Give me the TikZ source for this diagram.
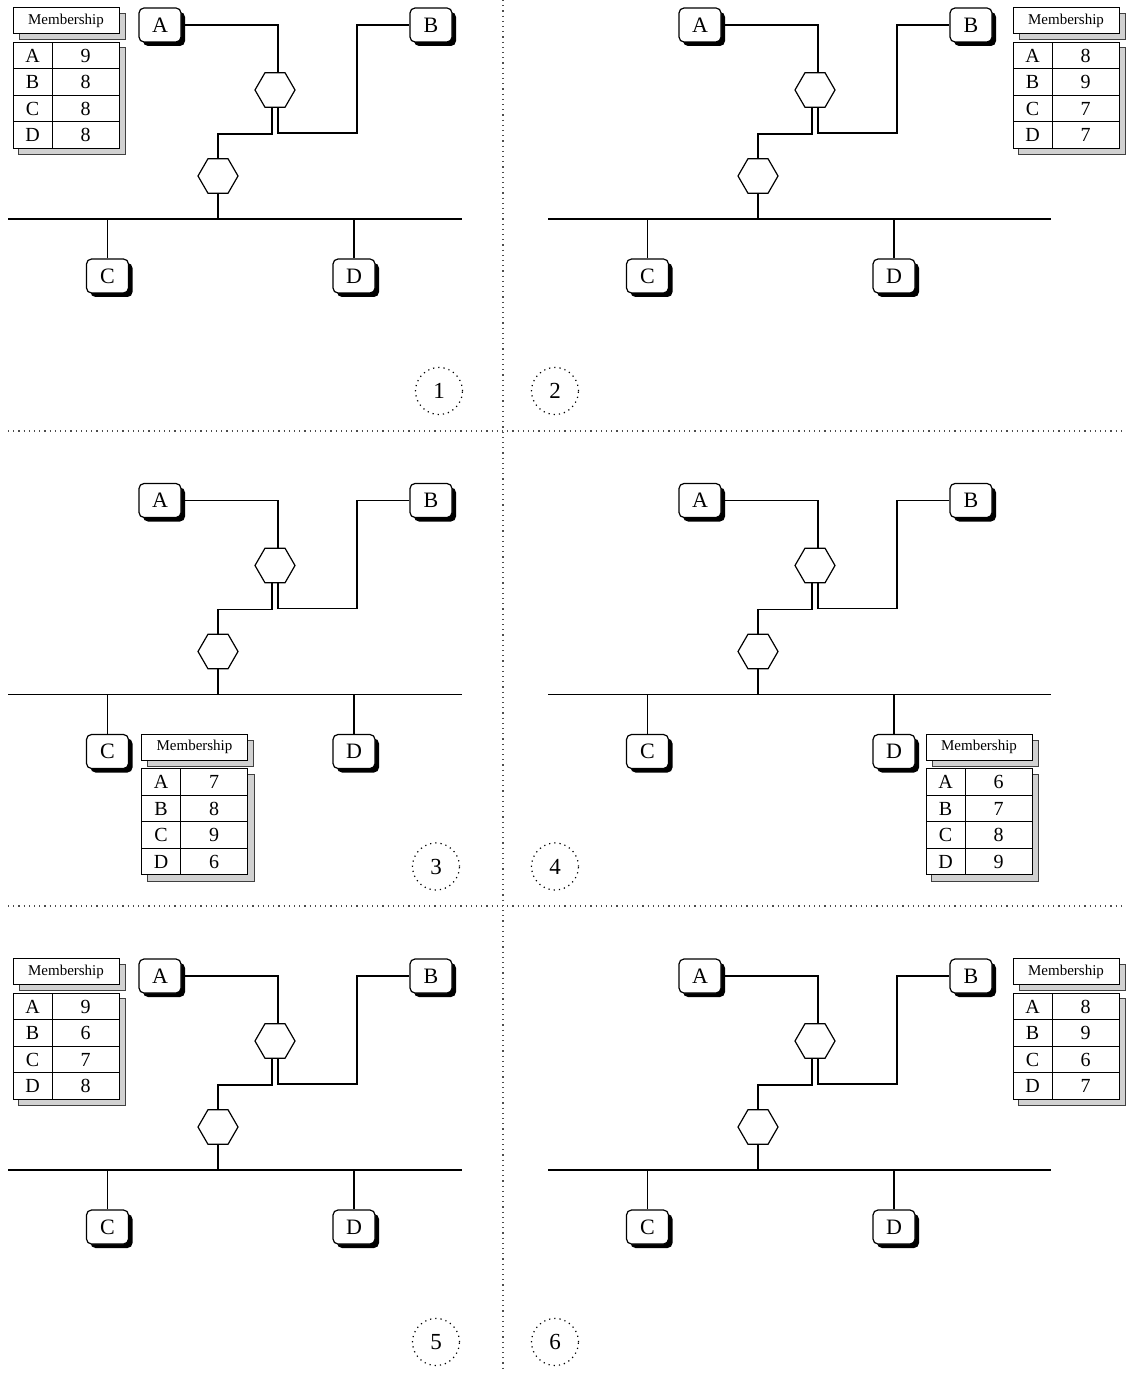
\documentclass[tikz,border=0pt]{standalone}
\usepackage{fontspec}
\setmainfont{Liberation Serif}
\usetikzlibrary{shapes.geometric, positioning, shadows, matrix}

% one network panel: #1 prefix, #2 shift, #3 right end of the bus
\newcommand{\netpanel}[3]{%
    \begin{scope}[shift={#2}]
        % Stations
        \node[station] (#1A) at (160,-25) {A};
        \node[station] (#1B) at (431,-25) {B};
        \node[station] (#1C) at (107.5,-276) {C};
        \node[station] (#1D) at (354,-276) {D};

        % Bridges
        \node[bridge] (#1h1) at (275,-90) {};
        \node[bridge] (#1h2) at (218,-176) {};
        \coordinate (#1bend) at (357,-133);
        \coordinate (#1busl) at (8,-219);
        \coordinate (#1busr) at (#3,-219);

        % Connections
        \draw (#1A.east) -| ([xshift=1.5pt]#1h1.north);
        \draw ([xshift=1.5pt]#1h1.south) |- (#1bend) |- (#1B.west);
        \draw ([xshift=-1.5pt]#1h1.south) -- ++(0,-26) -| (#1h2.north);
        \draw (#1h2.south) -- (#1h2.south |- #1busl);
        \draw (#1busl) -- (#1busr);
        \draw (#1C.north) -- (#1C.north |- #1busl);
        \draw (#1D.north) -- (#1D.north |- #1busl);
    \end{scope}}

% membership table: #1 prefix, #2 placement, #3-#6 values for A-D
\newcommand{\memberlist}[6]{%
    \node[memhead, #2] (#1head) {Membership};
    \matrix[memtable, below=3.5pt of #1head] (#1tab) {
        A \& #3 \\
        B \& #4 \\
        C \& #5 \\
        D \& #6 \\
    };}

\begin{document}
\begin{tikzpicture}[
        x=0.5pt, y=0.5pt, line width=0.6pt,
        station/.style={rectangle, draw, fill=white, rounded corners=2.5pt,
            minimum width=21pt, minimum height=17pt, inner sep=0pt,
            font=\fontsize{11}{13}\selectfont,
            drop shadow={shadow xshift=2pt, shadow yshift=-2pt, opacity=1, fill=black}},
        bridge/.style={regular polygon, regular polygon sides=6, draw, fill=white,
            minimum size=20pt, inner sep=0pt},
        greyshadow/.style={drop shadow={shadow xshift=3pt, shadow yshift=-3pt,
            opacity=1, fill=black!18, draw=black!75, line width=0.4pt}},
        memhead/.style={rectangle, draw, fill=white, line width=0.4pt,
            minimum width=53pt, minimum height=13pt, inner sep=0pt,
            font=\fontsize{7.5}{9}\selectfont, greyshadow},
        memtable/.style={matrix of nodes, ampersand replacement=\&,
            inner sep=0pt, greyshadow,
            column sep=-0.4pt, row sep=-0.4pt,
            nodes={draw, fill=white, line width=0.4pt, minimum height=13.25pt,
                inner sep=0pt, font=\fontsize{10}{12}\selectfont},
            column 1/.style={nodes={minimum width=19.5pt}},
            column 2/.style={nodes={minimum width=33.5pt}}},
        tag/.style={circle, draw, dotted, minimum size=23.5pt, inner sep=0pt,
            font=\fontsize{11.5}{13}\selectfont},
        separator/.style={draw=black!70, dotted}
    ]
    \useasboundingbox (0,0) rectangle (1130,-1374);

    % Separators
    \draw[separator] (503,0) -- (503,-1372);
    \draw[separator] (8,-431) -- (1122,-431);
    \draw[separator] (8,-906) -- (1122,-906);

    % Panels
    \netpanel{p1}{(0,0)}{462}
    \netpanel{p2}{(540,0)}{511}
    \netpanel{p3}{(0,-475.5)}{462}
    \netpanel{p4}{(540,-475.5)}{511}
    \netpanel{p5}{(0,-951)}{462}
    \netpanel{p6}{(540,-951)}{511}

    % Panel numbers
    \node[tag] (n1) at (439,-391) {1};
    \node[tag] (n2) at (555,-391) {2};
    \node[tag] (n3) at (436,-866.5) {3};
    \node[tag] (n4) at (555,-866.5) {4};
    \node[tag] (n5) at (436,-1342) {5};
    \node[tag] (n6) at (555,-1342) {6};

    % Membership tables
    \memberlist{t1}{left=9.5pt of p1A.north west, anchor=north east}{9}{8}{8}{8}
    \memberlist{t2}{right=10pt of p2B.north east, anchor=north west}{8}{9}{7}{7}
    \memberlist{t3}{right=6pt of p3C.north east, anchor=north west}{7}{8}{9}{6}
    \memberlist{t4}{right=5pt of p4D.north east, anchor=north west}{6}{7}{8}{9}
    \memberlist{t5}{left=9.5pt of p5A.north west, anchor=north east}{9}{6}{7}{8}
    \memberlist{t6}{right=10pt of p6B.north east, anchor=north west}{8}{9}{6}{7}
\end{tikzpicture}
\end{document}
